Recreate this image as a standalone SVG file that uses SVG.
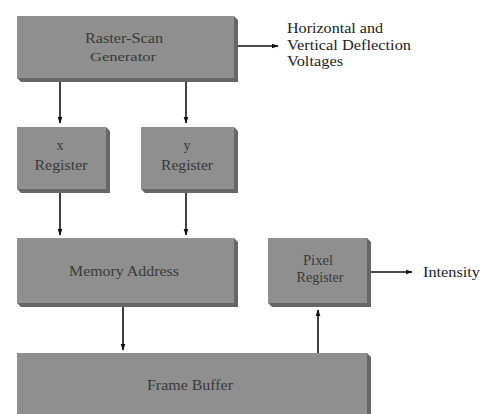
<svg xmlns="http://www.w3.org/2000/svg" width="481" height="414" viewBox="0 0 481 414">
<style>
.face{fill:#8f8f8f}
.depth{fill:#666666}
.lbl{font-family:"Liberation Serif","Times New Roman",serif;fill:#3a3a3a;text-anchor:middle;font-size:14px}
.out{font-family:"Liberation Serif","Times New Roman",serif;fill:#222;font-size:14px}
.conn line{stroke:#111;stroke-width:1.6}
</style>
<defs>
<marker id="ah" viewBox="0 0 10 10" refX="9" refY="5" markerWidth="7" markerHeight="7" markerUnits="userSpaceOnUse" orient="auto"><path d="M0,1.5 L10,5 L0,8.5 z" fill="#111"/></marker>
</defs>
<rect width="481" height="414" fill="#ffffff"/>
<g id="raster">
<polygon class="depth" points="234,16 238,20 238,82 21,82 17,78"/>
<rect class="face" x="17" y="16" width="217" height="62"/>
<text class="lbl" x="124" y="43" font-size="15" textLength="78" lengthAdjust="spacingAndGlyphs">Raster-Scan</text>
<text class="lbl" x="123" y="61" style="font-size:12px" textLength="66" lengthAdjust="spacingAndGlyphs">Generator</text>
</g>
<g id="xreg">
<polygon class="depth" points="106,127 110,131 110,193 21,193 17,189"/>
<rect class="face" x="17" y="127" width="89" height="62"/>
<text class="lbl" x="60" y="150">x</text>
<text class="lbl" x="61" y="170" textLength="53" lengthAdjust="spacingAndGlyphs">Register</text>
</g>
<g id="yreg">
<polygon class="depth" points="234,127 238,131 238,193 145,193 141,189"/>
<rect class="face" x="141" y="127" width="93" height="62"/>
<text class="lbl" x="187" y="150">y</text>
<text class="lbl" x="187" y="170" textLength="52" lengthAdjust="spacingAndGlyphs">Register</text>
</g>
<g id="memory">
<polygon class="depth" points="234,238 238,242 238,307 21,307 17,303"/>
<rect class="face" x="17" y="238" width="217" height="65"/>
<text class="lbl" x="124" y="276" textLength="110" lengthAdjust="spacingAndGlyphs">Memory Address</text>
</g>
<g id="pixel">
<polygon class="depth" points="367,238 371,242 371,307 272,307 268,303"/>
<rect class="face" x="268" y="238" width="99" height="65"/>
<text class="lbl" x="318" y="265" textLength="30" lengthAdjust="spacingAndGlyphs">Pixel</text>
<text class="lbl" x="320" y="282" textLength="47" lengthAdjust="spacingAndGlyphs">Register</text>
</g>
<g id="frame">
<polygon class="depth" points="367,353 371,357 371,420 17,420"/>
<rect class="face" x="17" y="353" width="350" height="70"/>
<text class="lbl" x="190" y="390" textLength="86" lengthAdjust="spacingAndGlyphs">Frame Buffer</text>
</g>
<g id="labels">
<text class="out" x="287" y="33" textLength="96" lengthAdjust="spacingAndGlyphs">Horizontal and</text>
<text class="out" x="287" y="50" textLength="124" lengthAdjust="spacingAndGlyphs">Vertical Deflection</text>
<text class="out" x="287" y="66" textLength="56" lengthAdjust="spacingAndGlyphs">Voltages</text>
<text class="out" x="423" y="277" textLength="57" lengthAdjust="spacingAndGlyphs">Intensity</text>
</g>
<g class="conn" id="connectors">
<line x1="238" y1="46" x2="278" y2="46" marker-end="url(#ah)"/>
<line x1="60" y1="82" x2="60" y2="123" marker-end="url(#ah)"/>
<line x1="186" y1="82" x2="186" y2="123" marker-end="url(#ah)"/>
<line x1="60" y1="193" x2="60" y2="235" marker-end="url(#ah)"/>
<line x1="186" y1="193" x2="186" y2="235" marker-end="url(#ah)"/>
<line x1="123" y1="307" x2="123" y2="350" marker-end="url(#ah)"/>
<line x1="318" y1="353" x2="318" y2="310" marker-end="url(#ah)"/>
<line x1="371" y1="272" x2="412" y2="272" marker-end="url(#ah)"/>
</g>
</svg>
